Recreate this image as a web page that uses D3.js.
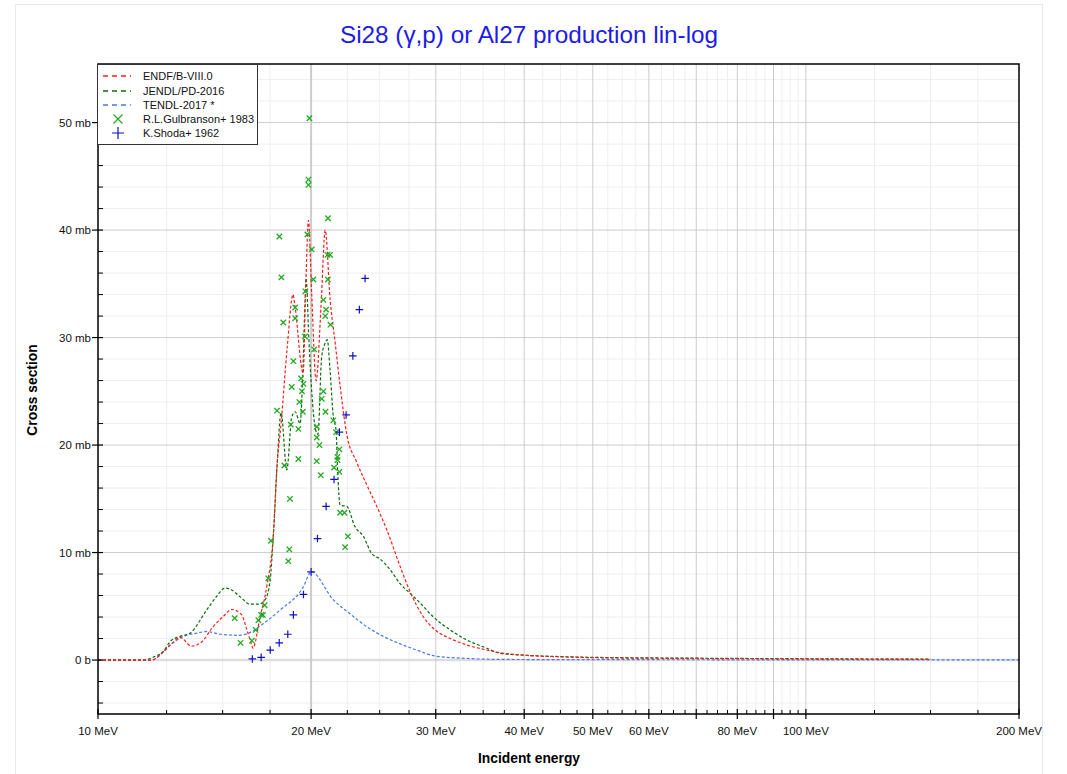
<!DOCTYPE html>
<html><head><meta charset="utf-8">
<script src="https://cdn.jsdelivr.net/npm/d3@7"></script>
<style>
body{margin:0;background:#fff;}
svg{display:block;font-family:"Liberation Sans",Arial,sans-serif;}
</style></head>
<body><svg id="c" width="1067" height="774"></svg>
<script>
// ---- data (energies in MeV, cross sections in mb) ----
const endfE = [10,11.9,12.3,12.7,13.06,13.56,14.02,14.54,15.0,15.45,15.96,16.23,16.49,16.55,16.94,17.31,17.7,17.9,18.14,18.5,18.86,18.98,19.49,19.66,19.83,20.04,20.33,20.66,20.94,21.28,21.63,21.98,22.46,23.2,23.97,24.8,25.59,26.72,27.6,28.83,29.94,31.45,33.2,35.43,37.0,40,45,50,60,70,80,100,120,150];
const endfV = [0,0,0.6,1.5,2.1,1.3,1.7,3.1,4.0,4.7,4.2,2.8,1.4,1.1,4.0,6.8,11.9,18.0,22,29,34,32.9,26.7,35,40.9,34,26,33,40,33.5,29.5,25.5,21,18.4,16.3,14.2,12.1,8.7,6.35,4.0,2.8,2.0,1.4,0.93,0.68,0.45,0.3,0.22,0.17,0.15,0.13,0.11,0.09,0.07];
const jendlE = [10,11.58,12.0,12.37,12.64,13.06,13.49,14.24,14.7,15.12,15.37,15.87,16.4,16.85,17.22,17.5,17.7,17.9,18.14,18.48,18.78,18.99,19.3,19.45,19.6,19.68,19.85,20.04,20.3,20.45,20.7,20.94,21.08,21.27,21.5,21.69,21.8,21.98,22.46,23.07,23.71,24.36,25.03,25.86,26.72,27.6,28.52,29.78,31.45,33.2,35.43,37.0,40,45,50,60,70,80,100,120,150];
const jendlV = [0,0,0.3,0.8,1.7,2.2,2.5,4.65,5.9,6.7,6.6,5.9,5.2,5.2,5.6,7.4,11.9,18.0,23,17.7,22.6,23.1,22,26,33,35.5,30,25,21.4,21.0,28.2,29.5,29.8,27,22.6,21.4,17.7,14.4,14.3,12.4,11.5,9.9,9.4,8.4,7.1,6.2,5.3,4.0,2.8,1.86,1.1,0.62,0.45,0.32,0.25,0.2,0.17,0.15,0.12,0.1,0.08];
const tendlE = [10,11.9,12.64,13.2,13.79,14.24,14.87,15.87,16.31,17.13,18.08,19.5,20.0,21.5,22.7,23.97,25.3,26.72,28.2,29.94,33.2,37.0,45,60,100,150,200];
const tendlV = [0,0,1.4,2.2,2.5,2.65,2.4,2.3,2.5,3.4,4.65,6.8,8.2,5.6,4.3,3.1,2.2,1.5,0.93,0.37,0.15,0.06,0.04,0.03,0.02,0.02,0.02];
const gulbE = [15.6,15.9,16.5,16.7,16.85,17.0,17.1,17.2,17.4,17.55,17.9,18.04,18.16,18.27,18.33,18.57,18.63,18.67,18.72,18.78,18.88,18.99,18.99,19.19,19.19,19.25,19.36,19.41,19.47,19.51,19.61,19.63,19.76,19.83,19.83,19.89,20.04,20.15,20.2,20.37,20.37,20.37,20.55,20.64,20.71,20.82,20.82,20.94,20.96,21.0,21.09,21.12,21.13,21.27,21.3,21.5,21.55,21.69,21.79,21.79,21.93,21.93,21.98,22.29,22.34,22.54];
const gulbV = [3.9,1.6,1.8,2.8,3.7,4.2,4.2,5.1,7.6,11.1,23.2,39.4,35.6,31.4,18.1,9.2,10.3,15.0,21.9,25.4,27.8,32.8,31.8,21.5,18.7,24.0,26.2,25.0,23.1,25.7,30.1,34.3,39.6,44.7,44.2,50.4,38.2,35.4,28.9,21.7,20.7,18.5,20.0,17.2,24.3,33.5,25.0,32.0,23.1,32.6,37.7,35.4,41.1,37.7,31.2,22.3,17.9,21.2,18.9,18.6,17.5,19.6,13.7,13.7,10.5,11.5];
const shodaE = [16.52,17.0,17.51,18.03,18.54,18.88,19.51,20.0,20.42,21.0,21.55,21.93,22.41,22.91,23.4,23.84];
const shodaV = [0.1,0.25,0.93,1.6,2.4,4.2,6.1,8.2,11.3,14.3,16.8,21.2,22.8,28.3,32.6,35.5];
const xMajor = [10,20,30,40,50,60,70,80,90,100,200];
const xLabeled = [10,20,30,40,50,60,80,100,200];
const xMinor = [12.5,15,17.5,22.5,25,27.5,32.5,35,37.5,42.5,45,47.5,52.5,55,57.5,62.5,65,67.5,72.5,75,77.5,82.5,85,87.5,92.5,95,97.5,125,150,175];
const yMajor = [0,10,20,30,40,50];
const yLabels = ["0 b","10 mb","20 mb","30 mb","40 mb","50 mb"];
const seriesNames = ["ENDF/B-VIII.0","JENDL/PD-2016","TENDL-2017 *","R.L.Gulbranson+ 1983","K.Shoda+ 1962"];
const titleText = "Si28 (γ,p) or Al27 production lin-log";

// ---- drawing ----
const svg = d3.select("#c");
const L=98,R=1019,T=64,B=714;
const x = d3.scaleLog().domain([10,200]).range([L,R]);
const y = d3.scaleLinear().domain([-5.02,55.45]).range([B,T]);

svg.append("rect").attr("x",15.5).attr("y",4.5).attr("width",1027).attr("height",790)
  .attr("fill","#fff").attr("stroke","#e8e8e8");

svg.append("text").attr("x",529).attr("y",43).attr("text-anchor","middle")
  .attr("font-size",24.3).attr("fill","#1c1ce6").text(titleText);

const g = svg.append("g");
const yMinor = d3.range(-4,56,2).filter(v=>v%10!==0);
g.selectAll(".ymg").data(yMinor).join("line").attr("x1",L).attr("x2",R)
  .attr("y1",d=>y(d)).attr("y2",d=>y(d)).attr("stroke","#eeeeee").attr("stroke-width",1);
g.selectAll(".xmg").data(xMinor).join("line").attr("y1",T).attr("y2",B)
  .attr("x1",d=>x(d)).attr("x2",d=>x(d)).attr("stroke","#eeeeee").attr("stroke-width",1);
g.selectAll(".ymj").data(yMajor).join("line").attr("x1",L).attr("x2",R)
  .attr("y1",d=>y(d)).attr("y2",d=>y(d)).attr("stroke",d=>d===0?"#dddddd":"#cccccc").attr("stroke-width",d=>d===0?2.5:1);
g.selectAll(".xmj").data(xMajor.filter(d=>d>10&&d<200)).join("line").attr("y1",T).attr("y2",B)
  .attr("x1",d=>x(d)).attr("x2",d=>x(d)).attr("stroke","#cccccc").attr("stroke-width",d=>d===20?2:1);

svg.append("clipPath").attr("id","clip").append("rect").attr("x",L).attr("y",T).attr("width",R-L).attr("height",B-T);
const plot = svg.append("g").attr("clip-path","url(#clip)");
const line = d3.line().x(d=>x(d[0])).y(d=>y(d[1])).curve(d3.curveMonotoneX);
const curves = [
  {E:endfE,V:endfV,c:"#ff1a1a"},
  {E:jendlE,V:jendlV,c:"#0a6e0a"},
  {E:tendlE,V:tendlV,c:"#4a78e8"}
];
curves.slice().reverse().forEach(s=>{
  plot.append("path").attr("d",line(s.E.map((e,i)=>[e,s.V[i]])))
    .attr("fill","none").attr("stroke",s.c).attr("stroke-width",1.2).attr("stroke-dasharray","3,2");
});
const gulb = gulbE.map((e,i)=>[e,gulbV[i]]);
plot.selectAll(".gx").data(gulb).join("path")
  .attr("d",d=>{const cx=x(d[0]),cy=y(d[1]),s=2.7;return `M${cx-s},${cy-s}L${cx+s},${cy+s}M${cx-s},${cy+s}L${cx+s},${cy-s}`;})
  .attr("stroke","#22aa22").attr("stroke-width",1.3).attr("fill","none");
const shoda = shodaE.map((e,i)=>[e,shodaV[i]]);
plot.selectAll(".sp").data(shoda).join("path")
  .attr("d",d=>{const cx=x(d[0]),cy=y(d[1]),s=3.8;return `M${cx-s},${cy}L${cx+s},${cy}M${cx},${cy-s}L${cx},${cy+s}`;})
  .attr("stroke","#1010c0").attr("stroke-width",1.2).attr("fill","none");

svg.append("rect").attr("x",L).attr("y",T).attr("width",R-L).attr("height",B-T)
  .attr("fill","none").attr("stroke","#000").attr("stroke-width",1.5);

const ax = svg.append("g");
ax.selectAll(".xt").data(xMajor).join("line").attr("x1",d=>x(d)).attr("x2",d=>x(d))
  .attr("y1",B-5).attr("y2",B+5).attr("stroke","#000").attr("stroke-width",1.2);
ax.selectAll(".xtm").data(xMinor).join("line").attr("x1",d=>x(d)).attr("x2",d=>x(d))
  .attr("y1",B-4).attr("y2",B).attr("stroke","#000").attr("stroke-width",1);
ax.selectAll(".xl").data(xLabeled).join("text").attr("x",d=>x(d)).attr("y",B+21)
  .attr("text-anchor","middle").attr("font-size",11.5).attr("fill","#111").text(d=>d+" MeV");
const yMinorAll = d3.range(-4,56,2).filter(v=>v%10!==0);
ax.selectAll(".yt").data(yMajor).join("line").attr("y1",d=>y(d)).attr("y2",d=>y(d))
  .attr("x1",L-6).attr("x2",L+5).attr("stroke","#000").attr("stroke-width",1.2);
ax.selectAll(".ytm").data(yMinorAll).join("line").attr("y1",d=>y(d)).attr("y2",d=>y(d))
  .attr("x1",L).attr("x2",L+5).attr("stroke","#000").attr("stroke-width",1);
ax.selectAll(".yl").data(yMajor).join("text").attr("x",L-7).attr("y",d=>y(d)+4)
  .attr("text-anchor","end").attr("font-size",11.5).attr("fill","#111").text((d,i)=>yLabels[i]);

svg.append("text").attr("x",529).attr("y",763).attr("text-anchor","middle")
  .attr("font-size",13.8).attr("font-weight","bold").text("Incident energy");
svg.append("text").attr("transform","translate(37,390) rotate(-90)").attr("text-anchor","middle")
  .attr("font-size",13.8).attr("font-weight","bold").text("Cross section");

const lg = svg.append("g");
lg.append("rect").attr("x",97.5).attr("y",64.5).attr("width",160).attr("height",80)
  .attr("fill","#fff").attr("stroke","#333").attr("stroke-width",1);
const ly = [76,91,105,119,133];
const lcol = ["#ff1a1a","#0a6e0a","#4a78e8"];
[0,1,2].forEach(i=>{
  lg.append("line").attr("x1",103).attr("x2",131).attr("y1",ly[i]).attr("y2",ly[i])
    .attr("stroke",lcol[i]).attr("stroke-width",1.6).attr("stroke-dasharray","5,4");
});
{const cx=118,cy=ly[3],s=4.5;
 lg.append("path").attr("d",`M${cx-s},${cy-s}L${cx+s},${cy+s}M${cx-s},${cy+s}L${cx+s},${cy-s}`).attr("stroke","#22aa22").attr("stroke-width",1.2);}
{const cx=118,cy=ly[4],s=6;
 lg.append("path").attr("d",`M${cx-s},${cy}L${cx+s},${cy}M${cx},${cy-s}L${cx},${cy+s}`).attr("stroke","#1010c0").attr("stroke-width",1.2);}
lg.selectAll(".lt").data(seriesNames).join("text").attr("x",143).attr("y",(d,i)=>ly[i]+4)
  .attr("font-size",11).attr("fill","#111").text(d=>d);
</script></body></html>
